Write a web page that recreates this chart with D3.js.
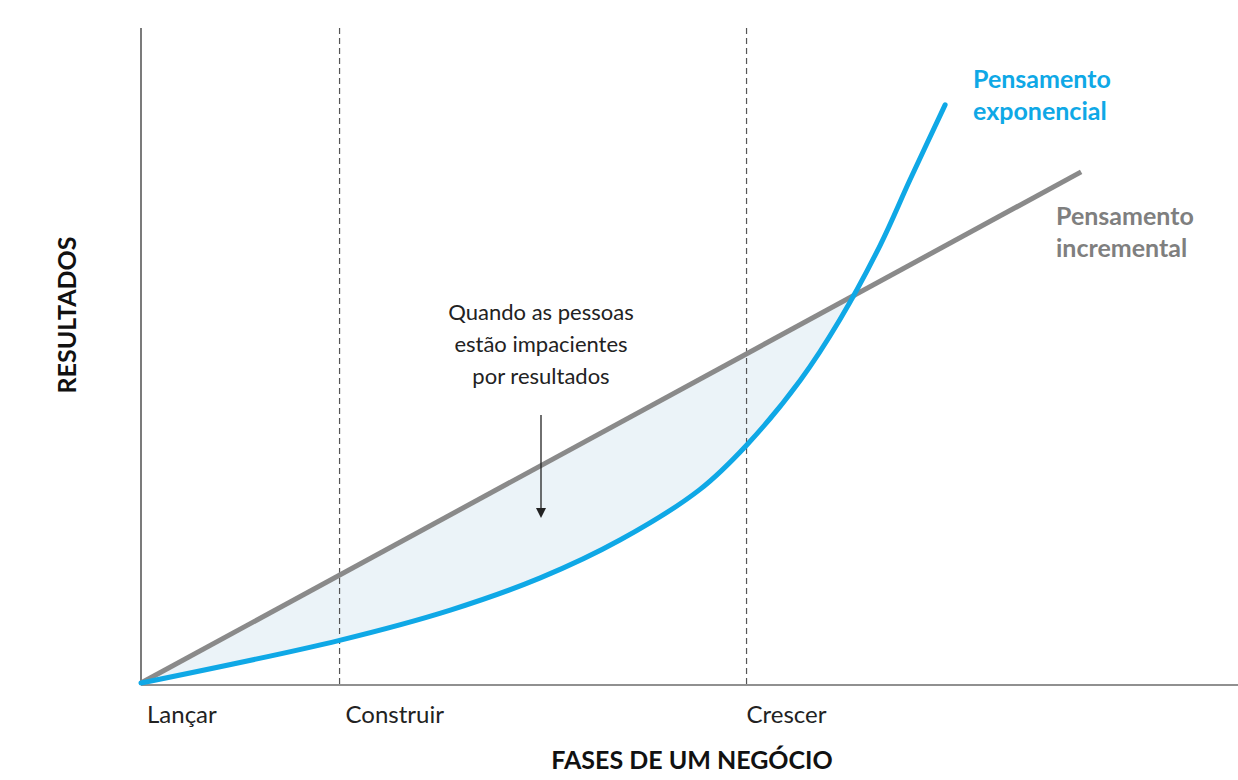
<!DOCTYPE html><html><head><meta charset="utf-8">
<script src="https://cdn.jsdelivr.net/npm/d3@7"></script>
<style>body{margin:0;background:#fff}svg{font-family:Lato,sans-serif}</style></head><body>
<svg id="c" width="1238" height="780"></svg>
<script>
const phaseLabels=["Lançar","Construir","Crescer"];
const phaseX=[0,18.1,55.2];
const incremental=[[0,0.3],[85.7,78.1]];
const exponential=[[0,0.3],[18.1,6.8],[28.2,11.4],[36.4,16.3],[43.7,22.1],[50.9,29.7],[55.2,36.5],[60.1,46.4],[63.7,55.6],[67.4,67.0],[70.1,76.9],[73.3,88.3]];
const crossX=65.6;
const svg=d3.select("#c");
const x=d3.scaleLinear().domain([0,100]).range([141,1238]);
const y=d3.scaleLinear().domain([0,100]).range([685,28]);
const lineY=v=>incremental[0][1]+(v-incremental[0][0])*(incremental[1][1]-incremental[0][1])/(incremental[1][0]-incremental[0][0]);
const blue="#0fa8e6", gray="#8a8a8a";
const crv=d3.curveCatmullRom.alpha(0.5);
const fillPts=exponential.filter(d=>d[0]<crossX).concat([[crossX,lineY(crossX)]]);
svg.append("path").datum(fillPts).attr("fill","#ebf3f8")
 .attr("d",d3.area().x(d=>x(d[0])).y0(d=>y(d[1])).y1(d=>y(lineY(d[0]))).curve(crv));
svg.selectAll(".dash").data(phaseX.slice(1)).enter().append("line")
 .attr("x1",d=>x(d)).attr("x2",d=>x(d)).attr("y1",y(100)).attr("y2",y(0))
 .attr("stroke","#555").attr("stroke-width",1.2).attr("stroke-dasharray","6,4");
svg.append("line").attr("x1",x(0)).attr("x2",x(0)).attr("y1",y(100)).attr("y2",y(0)).attr("stroke","#222").attr("stroke-width",1.2);
svg.append("line").attr("x1",x(0)).attr("x2",x(100)).attr("y1",y(0)).attr("y2",y(0)).attr("stroke","#222").attr("stroke-width",1.2);
svg.append("path").datum(incremental).attr("fill","none").attr("stroke",gray).attr("stroke-width",5)
 .attr("d",d3.line().x(d=>x(d[0])).y(d=>y(d[1])));
svg.append("path").datum(exponential).attr("fill","none").attr("stroke",blue).attr("stroke-width",5).attr("stroke-linecap","round")
 .attr("d",d3.line().x(d=>x(d[0])).y(d=>y(d[1])).curve(crv));
svg.selectAll(".tl").data(phaseLabels).enter().append("text")
 .attr("x",(d,i)=>x(phaseX[i])+(i==2?0:6)).attr("y",723).attr("font-size",24).attr("fill","#222").text(d=>d);
svg.append("text").attr("x",692).attr("y",769).attr("text-anchor","middle").attr("font-size",25).attr("font-weight","bold").attr("fill","#111").text("FASES DE UM NEGÓCIO");
svg.append("text").attr("transform","translate(76,315) rotate(-90)").attr("text-anchor","middle").attr("font-size",25).attr("font-weight","bold").attr("fill","#111").text("RESULTADOS");
const lab=(t,xx,yy,c)=>t.forEach((s,i)=>svg.append("text").attr("x",xx).attr("y",yy+i*32).attr("font-size",25).attr("font-weight","bold").attr("fill",c).text(s));
lab(["Pensamento","exponencial"],973,88,blue);
lab(["Pensamento","incremental"],1056,225,"#7f7f7f");
["Quando as pessoas","estão impacientes","por resultados"].forEach((s,i)=>svg.append("text").attr("x",541).attr("y",320+i*32).attr("text-anchor","middle").attr("font-size",22).attr("fill","#222").text(s));
svg.append("line").attr("x1",541).attr("x2",541).attr("y1",415).attr("y2",510).attr("stroke","#222").attr("stroke-width",1.3);
svg.append("path").attr("d","M536,508 L546,508 L541,518 Z").attr("fill","#222");
</script></body></html>
